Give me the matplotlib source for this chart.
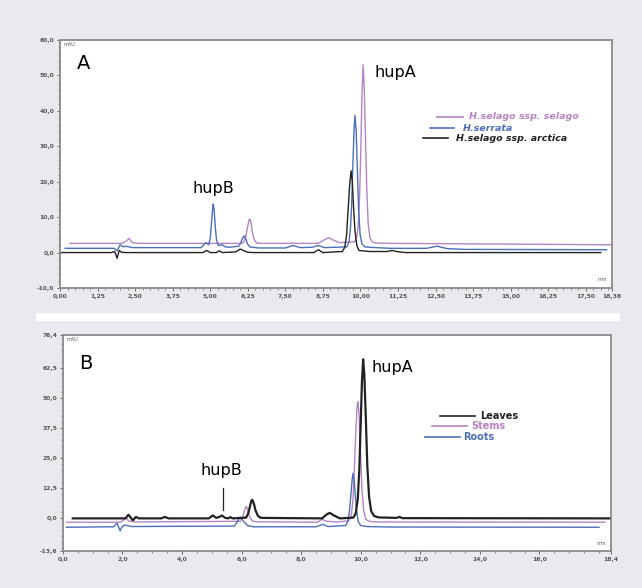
import matplotlib
matplotlib.use('Agg')
import matplotlib.pyplot as plt
from matplotlib.ticker import FuncFormatter, FixedLocator, MultipleLocator
from matplotlib.patches import Rectangle

# ---- panel A: three Huperzia samples ----
t_sel = [0.33, 2.05, 2.2, 2.3, 2.4, 2.6, 6.05, 6.12, 6.18, 6.24, 6.29, 6.32, 6.36, 6.41, 6.47, 6.55, 6.7,
         8.6, 8.8, 8.95, 9.1, 9.3, 9.8, 9.88, 9.93, 9.97, 10.01, 10.05, 10.09, 10.13, 10.17, 10.21,
         10.26, 10.32, 10.4, 10.5, 11.0, 18.38]
y_sel = [2.6, 2.6, 3.2, 4.0, 2.8, 2.6, 2.6, 3.0, 4.5, 7.0, 9.2, 9.5, 8.3, 5.5, 3.5, 2.7, 2.6,
         2.6, 3.6, 4.2, 3.5, 2.8, 3.0, 4.5, 8.0, 15.0, 28.0, 44.0, 53.0, 46.0, 32.0, 18.0,
         8.0, 4.0, 3.0, 2.7, 2.6, 2.2]

t_ser = [0.17, 1.8, 1.9, 2.0, 2.1, 2.2, 2.4, 4.7, 4.85, 4.95, 5.0, 5.04, 5.08, 5.1, 5.13, 5.17, 5.21,
         5.27, 5.4, 5.5, 5.65, 5.95, 6.02, 6.08, 6.13, 6.18, 6.24, 6.32, 6.6, 7.5, 7.75, 8.0, 8.4,
         8.6, 8.8, 9.55, 9.62, 9.67, 9.71, 9.75, 9.79, 9.82, 9.86, 9.9, 9.94, 9.99, 10.05, 10.15,
         10.5, 11.0, 12.2, 12.55, 12.9, 13.5, 18.2]
y_ser = [1.2, 1.2, 0.5, 2.2, 1.6, 1.8, 1.4, 1.4, 2.8, 2.2, 4.0, 8.0, 12.5, 13.7, 12.0, 7.0, 3.5,
         2.0, 2.2, 1.6, 1.5, 1.8, 2.8, 4.2, 4.7, 4.0, 2.5, 1.6, 1.3, 1.3, 2.0, 1.4, 1.5,
         2.0, 1.4, 1.6, 3.0, 7.0, 14.0, 25.0, 35.0, 38.7, 34.0, 23.0, 12.0, 5.0, 2.5, 1.6,
         1.4, 1.2, 1.2, 1.8, 1.1, 0.9, 0.8]

t_arc = [0.0, 1.7, 1.82, 1.9, 1.97, 2.05, 2.2, 4.75, 4.88, 5.0, 5.2, 5.3, 5.4, 5.85, 6.0, 6.1, 6.25, 6.4,
         8.45, 8.6, 8.75, 9.4, 9.48, 9.54, 9.59, 9.64, 9.69, 9.73, 9.77, 9.82, 9.88, 9.95, 10.3,
         10.9, 11.05, 11.2, 11.5, 18.0]
y_arc = [0.0, 0.0, 0.3, -1.6, 0.6, 0.1, 0.0, 0.0, 0.6, 0.0, 0.0, 0.5, 0.0, 0.2, 1.0, 0.6, 0.1, 0.0,
         0.0, 0.8, 0.0, 0.3, 1.5, 5.0, 12.0, 19.0, 23.1, 20.0, 13.0, 6.0, 2.0, 0.6, 0.3,
         0.3, 0.6, 0.3, 0.0, 0.0]

# ---- panel B: plant organs ----
t_lv = [0.33, 2.1, 2.2, 2.28, 2.35, 2.45, 2.55, 3.3, 3.42, 3.55, 4.9, 5.03, 5.15, 5.25, 5.34, 5.45, 5.55,
        5.62, 5.7, 6.15, 6.22, 6.28, 6.33, 6.36, 6.41, 6.47, 6.55, 6.65, 8.7, 8.85, 8.96, 9.1, 9.3,
        9.75, 9.83, 9.9, 9.95, 10.0, 10.04, 10.08, 10.12, 10.17, 10.22, 10.28, 10.35, 10.45, 10.6,
        11.2, 11.3, 11.4, 18.4]
y_lv = [0.0, 0.0, 1.5, 0.3, -0.8, 0.6, 0.0, 0.0, 0.6, 0.0, 0.0, 1.2, 0.2, 0.6, 1.2, 0.2, 0.0,
        0.5, 0.0, 0.3, 2.0, 5.0, 7.4, 7.7, 6.2, 3.2, 1.0, 0.2, 0.0, 1.6, 2.3, 1.2, 0.0,
        0.3, 2.0, 8.0, 20.0, 40.0, 57.0, 66.3, 60.0, 42.0, 22.0, 9.0, 3.0, 1.0, 0.4,
        0.2, 0.6, 0.1, 0.0]

t_st = [0.12, 1.95, 2.05, 2.12, 2.2, 2.4, 5.95, 6.03, 6.09, 6.15, 6.2, 6.26, 6.35, 6.45, 8.55, 8.7, 8.85,
        9.2, 9.6, 9.68, 9.74, 9.79, 9.84, 9.88, 9.91, 9.95, 9.99, 10.04, 10.1, 10.18, 10.3, 10.6, 18.2]
y_st = [-1.6, -1.6, -0.5, 0.3, -1.0, -1.5, -1.2, 0.5, 3.0, 5.0, 4.0, 1.0, -1.0, -1.4, -1.6, -0.4, -1.2,
        -1.5, -1.0, 1.0, 8.0, 22.0, 38.0, 47.0, 48.6, 42.0, 28.0, 12.0, 3.0, -0.5, -1.3, -1.5, -1.6]

t_rt = [0.12, 1.7, 1.82, 1.92, 2.0, 2.1, 2.3, 5.75, 5.83, 5.9, 5.95, 6.0, 6.08, 6.2, 6.4, 8.5, 8.72, 8.9,
        9.5, 9.57, 9.62, 9.67, 9.71, 9.74, 9.77, 9.81, 9.86, 9.92, 10.0, 10.2, 11.0, 18.0]
y_rt = [-3.7, -3.5, -2.0, -5.2, -3.2, -2.8, -3.4, -3.2, -2.0, -0.3, 0.5, 0.0, -1.5, -3.0, -3.5, -3.5, -2.5, -3.4,
        -3.0, -1.0, 3.0, 10.0, 16.0, 18.8, 17.0, 11.0, 3.0, -1.5, -3.0, -3.4, -3.6, -3.7]

xticks_a = [0, 1.25, 2.5, 3.75, 5.0, 6.25, 7.5, 8.75, 10.0, 11.25, 12.5, 13.75, 15.0, 16.25, 17.5, 18.38]
yticks_a = [-10, 0, 10, 20, 30, 40, 50, 60]
xticks_b = [0, 2, 4, 6, 8, 10, 12, 14, 16, 18.4]
yticks_b = [-13.6, 0, 12.5, 25, 37.5, 50, 62.5, 76.4]

purple = '#b584c4'
blue = '#4b6fba'
black = '#222222'
bg = '#eaeaee'


def comma(fmt):
    return FuncFormatter(lambda v, p: (fmt % v).replace('.', ','))


def style(ax, xt, yt, xfmt, yfmt, xlim, ylim):
    ax.set_xlim(*xlim)
    ax.set_ylim(*ylim)
    ax.xaxis.set_major_locator(FixedLocator(xt))
    ax.yaxis.set_major_locator(FixedLocator(yt))
    ax.xaxis.set_major_formatter(comma(xfmt))
    ax.yaxis.set_major_formatter(comma(yfmt))
    ax.tick_params(labelsize=4.3, labelcolor='#555555', length=2.5, width=0.7, color='#666666', pad=1.5)
    ax.tick_params(which='minor', length=1.5, width=0.5, color='#666666')
    for lab in ax.get_xticklabels() + ax.get_yticklabels():
        lab.set_fontweight('bold')
    for s in ax.spines.values():
        s.set_color('#8a8a8a')
        s.set_linewidth(1.3)
    ax.text(0.006, 0.993, 'mAU', transform=ax.transAxes, fontsize=3.5, color='#555555', va='top', ha='left')
    ax.text(0.99, 0.025, 'min', transform=ax.transAxes, fontsize=3.5, color='#555555', va='bottom', ha='right')


fig = plt.figure(figsize=(6.42, 5.88), dpi=100, facecolor=bg)
fig.patches.append(Rectangle((0.056, 0.454), 0.91, 0.014, transform=fig.transFigure,
                             facecolor='white', edgecolor='none'))

# panel A
ax1 = fig.add_axes([0.0935, 0.5102, 0.86, 0.4218])
ax1.plot(t_sel, y_sel, color=purple, lw=1.0)
ax1.plot(t_ser, y_ser, color=blue, lw=1.0)
ax1.plot(t_arc, y_arc, color=black, lw=1.0)
style(ax1, xticks_a, yticks_a, '%.2f', '%.1f', (0, 18.38), (-10, 60))
ax1.xaxis.set_minor_locator(MultipleLocator(0.25))
ax1.yaxis.set_minor_locator(MultipleLocator(2))
ax1.text(0.03, 0.905, 'A', transform=ax1.transAxes, fontsize=14, va='center', ha='left')
ax1.text(0.277, 0.403, 'hupB', transform=ax1.transAxes, fontsize=11.5, va='center', ha='center')
ax1.text(0.607, 0.867, 'hupA', transform=ax1.transAxes, fontsize=11.5, va='center', ha='center')

leg_a = [((0.683, 0.730), 0.690, 0.741, purple, 'H.selago ssp. selago'),
         ((0.670, 0.714), 0.645, 0.730, blue, 'H.serrata'),
         ((0.658, 0.703), 0.604, 0.717, black, 'H.selago ssp. arctica')]
for (x0, x1), yy, xt, c, lab in leg_a:
    ax1.plot([x0, x1], [yy, yy], color=c, lw=1.2, transform=ax1.transAxes)
    ax1.text(xt, yy, lab, transform=ax1.transAxes, color=c, fontsize=6.8,
             fontstyle='italic', fontweight='bold', va='center', ha='left')

# panel B
ax2 = fig.add_axes([0.098, 0.0629, 0.8536, 0.3673])
ax2.plot(t_st, y_st, color=purple, lw=1.0)
ax2.plot(t_rt, y_rt, color=blue, lw=1.0)
ax2.plot(t_lv, y_lv, color=black, lw=1.6)
style(ax2, xticks_b, yticks_b, '%.1f', '%.1f', (0, 18.4), (-13.6, 76.4))
ax2.xaxis.set_minor_locator(MultipleLocator(0.5))
ax2.yaxis.set_minor_locator(MultipleLocator(2.5))
ax2.text(0.03, 0.87, 'B', transform=ax2.transAxes, fontsize=14, va='center', ha='left')
ax2.text(0.29, 0.375, 'hupB', transform=ax2.transAxes, fontsize=11.5, va='center', ha='center')
ax2.plot([5.37, 5.37], [3.5, 12.7], color=black, lw=0.9)
ax2.text(0.602, 0.852, 'hupA', transform=ax2.transAxes, fontsize=11.5, va='center', ha='center')

leg_b = [((0.688, 0.752), 0.625, 0.761, black, 'Leaves'),
         ((0.673, 0.737), 0.579, 0.745, purple, 'Stems'),
         ((0.661, 0.724), 0.528, 0.730, blue, 'Roots')]
for (x0, x1), yy, xt, c, lab in leg_b:
    ax2.plot([x0, x1], [yy, yy], color=c, lw=1.2, transform=ax2.transAxes)
    ax2.text(xt, yy, lab, transform=ax2.transAxes, color=c, fontsize=7,
             fontweight='bold', va='center', ha='left')

fig.savefig('out.png', dpi=100, facecolor=bg)
